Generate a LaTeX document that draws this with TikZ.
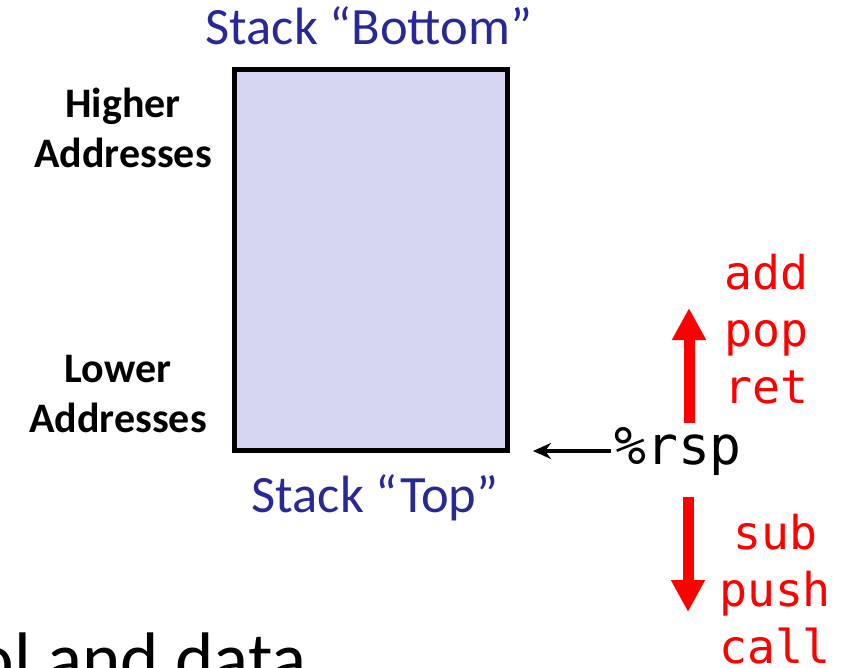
\documentclass[tikz,border=0pt]{standalone}
\usepackage{fontspec}
\setmainfont{Carlito}
\setmonofont{DejaVu Sans Mono}
\usetikzlibrary{arrows.meta}
\definecolor{stackblue}{RGB}{40,40,150}
\definecolor{stackfill}{RGB}{214,214,242}

\tikzset{
  side/.style={font=\fontsize{42}{50}\selectfont\bfseries, align=center, inner sep=0pt},
  stacklabel/.style={font=\fontsize{52.5}{60}\selectfont, text=stackblue, inner sep=0pt},
  ops/.style={font=\fontsize{46.5}{57}\selectfont\ttfamily, text=red, align=center, inner sep=0pt},
  growarrow/.style={red, line width=11pt, -{Triangle[length=32pt,width=32pt]}},
}

\begin{document}
\begin{tikzpicture}[x=1pt, y=-1pt]
        \useasboundingbox (0,0) rectangle (848,668);
        \clip (0,0) rectangle (848,668);
        % --- Draw stack ---
        \node[draw, line width=5pt, fill=stackfill, minimum width=273pt, minimum height=381pt, inner sep=0pt] (stack) at (371,260) {};
        \node[stacklabel, anchor=base] (bottom) at (369,45) {Stack “Bottom”};
        \node[stacklabel, anchor=base] (top) at (375,512) {Stack “Top”};
        \node[side, anchor=base] (high) at (123,168) {Higher\\Addresses};
        \node[side, anchor=base] (low) at (118,432) {Lower\\Addresses};
        % --- Stack pointer ---
        \node[font=\fontsize{53}{60}\selectfont\ttfamily, inner sep=0pt, anchor=west] (rsp) at (614,451) {\%rsp};
        \coordinate (rsptip) at (533,451);
        \draw[line width=4.5pt, -{Stealth[length=18pt,width=16pt]}] ([xshift=-3pt]rsp.west) -- (rsptip);
        % --- Growth directions ---
        \coordinate (upfrom) at (689,423);
        \coordinate (upto) at (689,308);
        \coordinate (downfrom) at (688,497);
        \coordinate (downto) at (688,612);
        \draw[growarrow] (upfrom) -- (upto);
        \draw[growarrow] (downfrom) -- (downto);
        \node[ops, anchor=base] (shrink) at (766,403) {add\\pop\\ret};
        \node[ops, anchor=base] (expand) at (775,663) {sub\\push\\call};
        % ---
        \node[font=\fontsize{73}{80}\selectfont, inner sep=0pt, anchor=base east] (cut) at (307,683) {ol and data};
\end{tikzpicture}
\end{document}
